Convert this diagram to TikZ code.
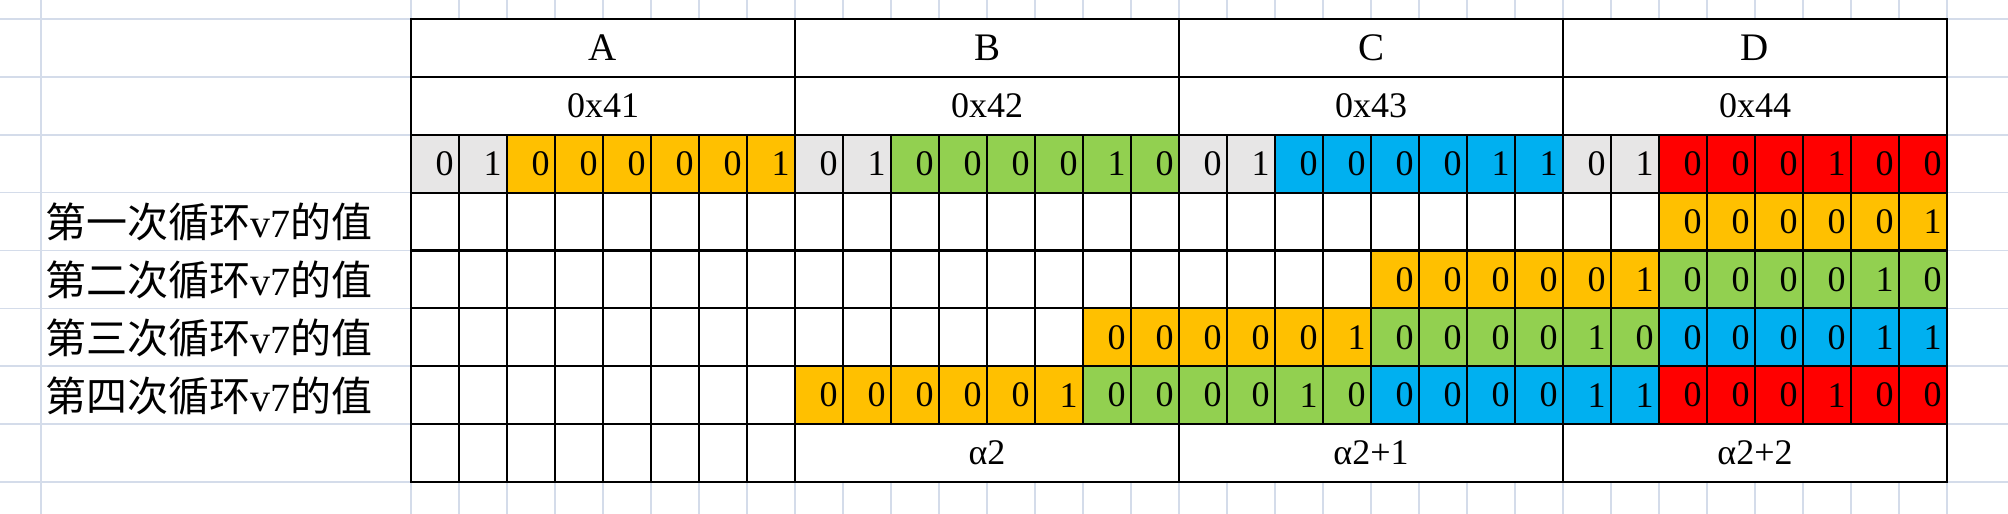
\documentclass[tikz,border=0pt]{standalone}
\usepackage{fontspec}
\setmainfont{Liberation Serif}
\newfontfamily\cjkf{Noto Sans CJK SC}
\definecolor{gridc}{RGB}{212,220,234}
\definecolor{orgc}{RGB}{255,192,0}
\definecolor{grnc}{RGB}{146,208,80}
\definecolor{bluc}{RGB}{0,176,240}
\definecolor{redc}{RGB}{255,0,0}
\definecolor{gryc}{RGB}{231,230,230}
\newcommand\numfont{\fontsize{36}{40}\selectfont}
\newcommand\letfont{\fontsize{39}{44}\selectfont}
\newcommand\labfont{\cjkf\fontsize{41}{46}\selectfont}
\newcommand\bitrun[4]{%
  \foreach \v [count=\cc from #2] in {#4} {%
    \node[cellbox, fill=#3] (b#1-\cc) at ({411+48*\cc-24},{19+57.875*#1-28.9375}) {\v};
  }%
}
\begin{document}
\begin{tikzpicture}[x=1pt,y=-1pt,
  gridline/.style={draw=gridc, line width=1.6pt},
  cellbox/.style={draw=black, line width=2.2pt, fill=white, minimum width=48pt,
    minimum height=57.875pt, inner sep=0pt, outer sep=0pt, text width=37pt,
    align=right, font=\numfont},
  mergebox/.style={draw=black, line width=2.2pt, fill=white, minimum width=384pt,
    minimum height=57.875pt, inner sep=0pt, outer sep=0pt, align=center},
  rowlabel/.style={anchor=base west, inner sep=0pt, font=\labfont}]
\useasboundingbox (0,0) rectangle (2008,514);
\fill[white] (0,0) rectangle (2008,514);
% spreadsheet grid
\foreach \k in {0,...,8} \draw[gridline] (0,{19+57.875*\k}) -- (2008,{19+57.875*\k});
\draw[gridline] (41,0) -- (41,514);
\foreach \k in {0,...,32} \draw[gridline] ({411+48*\k},0) -- ({411+48*\k},514);
% header rows
\foreach \g/\L/\H in {1/A/0x41, 2/B/0x42, 3/C/0x43, 4/D/0x44} {
  \node[mergebox, font=\letfont] (L\g) at ({411+384*\g-192},{19+57.875*0.5}) {\L};
  \node[mergebox, font=\numfont] (H\g) at ({411+384*\g-192},{19+57.875*1.5}) {\H};
}
% empty cells
\foreach \r in {3,...,7} \foreach \c in {1,...,32}
  \node[cellbox] (e\r-\c) at ({411+48*\c-24},{19+57.875*\r-28.9375}) {};
\foreach \c in {1,...,8}
  \node[cellbox] (e8-\c) at ({411+48*\c-24},{19+57.875*8-28.9375}) {};
% row 3: the four bytes
\bitrun{3}{1}{gryc}{0,1}
\bitrun{3}{3}{orgc}{0,0,0,0,0,1}
\bitrun{3}{9}{gryc}{0,1}
\bitrun{3}{11}{grnc}{0,0,0,0,1,0}
\bitrun{3}{17}{gryc}{0,1}
\bitrun{3}{19}{bluc}{0,0,0,0,1,1}
\bitrun{3}{25}{gryc}{0,1}
\bitrun{3}{27}{redc}{0,0,0,1,0,0}
% row 4
\bitrun{4}{27}{orgc}{0,0,0,0,0,1}
% row 5
\bitrun{5}{21}{orgc}{0,0,0,0,0,1}
\bitrun{5}{27}{grnc}{0,0,0,0,1,0}
% row 6
\bitrun{6}{15}{orgc}{0,0,0,0,0,1}
\bitrun{6}{21}{grnc}{0,0,0,0,1,0}
\bitrun{6}{27}{bluc}{0,0,0,0,1,1}
% row 7
\bitrun{7}{9}{orgc}{0,0,0,0,0,1}
\bitrun{7}{15}{grnc}{0,0,0,0,1,0}
\bitrun{7}{21}{bluc}{0,0,0,0,1,1}
\bitrun{7}{27}{redc}{0,0,0,1,0,0}
% bottom merged row
\foreach \g/\t in {2/α2, 3/α2+1, 4/α2+2}
  \node[mergebox, font=\numfont] (F\g) at ({411+384*\g-192},{19+57.875*7.5}) {\t};
% row labels
\foreach \r/\n in {4/一, 5/二, 6/三, 7/四}
  \node[rowlabel] (lab\r) at (45,{19+57.875*(\r-0.5)+16})
    {第\n 次循环{\rmfamily\fontsize{40}{46}\selectfont v7}的值};
\end{tikzpicture}
\end{document}
